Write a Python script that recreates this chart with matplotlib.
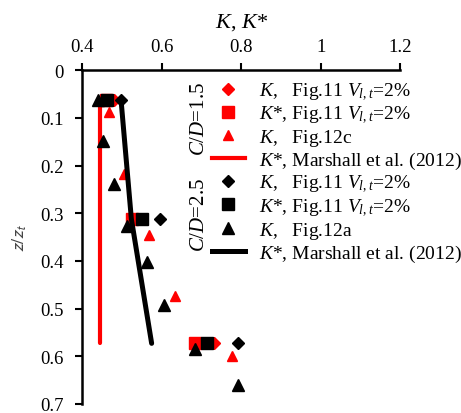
import matplotlib
matplotlib.use("Agg")
import matplotlib.pyplot as plt
from matplotlib.lines import Line2D

plt.rcParams['font.family'] = ['Liberation Serif', 'DejaVu Serif']
plt.rcParams['mathtext.fontset'] = 'custom'
plt.rcParams['mathtext.rm'] = 'Liberation Serif'
plt.rcParams['mathtext.it'] = 'Liberation Serif:italic'

# C/D = 1.5 (red)
z_fig11_15 = [0.062, 0.312, 0.573]
k_fig11_15 = [0.480, 0.540, 0.732]
kstar_fig11_15 = [0.460, 0.526, 0.684]
z_fig12c = [0.087, 0.218, 0.346, 0.474, 0.600]
k_fig12c = [0.468, 0.506, 0.569, 0.634, 0.778]
z_marsh_15 = [0.062, 0.573]
k_marsh_15 = [0.445, 0.445]

# C/D = 2.5 (black)
z_fig11_25 = [0.062, 0.312, 0.573]
k_fig11_25 = [0.498, 0.596, 0.793]
kstar_fig11_25 = [0.462, 0.551, 0.714]
z_fig12a = [0.062, 0.148, 0.239, 0.326, 0.403, 0.493, 0.585, 0.660]
k_fig12a = [0.440, 0.452, 0.480, 0.512, 0.564, 0.605, 0.684, 0.791]
z_marsh_25 = [0.062, 0.312, 0.573]
k_marsh_25 = [0.498, 0.524, 0.575]

fig = plt.figure(figsize=(4.61, 4.14), dpi=100)
ax = fig.add_axes([0.178, 0.022, 0.69, 0.806])

red = '#ff0000'
blk = '#000000'

ax.plot(k_marsh_15, z_marsh_15, color=red, lw=3, solid_capstyle='round', zorder=2)
ax.plot(k_fig11_15, z_fig11_15, 'D', color=red, ms=6.5, ls='none', zorder=3)
ax.plot(kstar_fig11_15, z_fig11_15, 's', color=red, ms=8.5, ls='none', zorder=3)
ax.plot(k_fig12c, z_fig12c, '^', color=red, ms=7.5, ls='none', zorder=3)

ax.plot(k_marsh_25, z_marsh_25, color=blk, lw=3.6, solid_capstyle='round', zorder=4)
ax.plot(k_fig11_25, z_fig11_25, 'D', color=blk, ms=6.5, ls='none', zorder=5)
ax.plot(kstar_fig11_25, z_fig11_25, 's', color=blk, ms=8.5, ls='none', zorder=5)
ax.plot(k_fig12a, z_fig12a, '^', color=blk, ms=8.5, ls='none', zorder=5)

ax.set_xlim(0.4, 1.2)
ax.set_ylim(0.7, 0)
ax.set_xticks([0.4, 0.6, 0.8, 1.0, 1.2])
ax.set_xticklabels(['0.4', '0.6', '0.8', '1', '1.2'])
ax.set_yticks([0, 0.1, 0.2, 0.3, 0.4, 0.5, 0.6, 0.7])
ax.set_yticklabels(['0', '0.1', '0.2', '0.3', '0.4', '0.5', '0.6', '0.7'])
ax.xaxis.tick_top()
ax.xaxis.set_label_position('top')
ax.tick_params(axis='both', direction='out', length=5, width=1.5, labelsize=13.5)
ax.tick_params(axis='x', pad=6)
ax.tick_params(axis='y', pad=8)
for s in ['right', 'bottom']:
    ax.spines[s].set_visible(False)
for s in ['left', 'top']:
    ax.spines[s].set_linewidth(1.8)

ax.set_xlabel('$K$, $K$*', fontsize=16, labelpad=8)
ax.set_ylabel('$z/z_t$', fontsize=13, color='#444444', labelpad=8,
              math_fontfamily='stixsans')

vlab = '$V_{l,t}$=2%'
handles = [
    Line2D([], [], marker='D', color=red, ms=6.5, ls='none'),
    Line2D([], [], marker='s', color=red, ms=8.5, ls='none'),
    Line2D([], [], marker='^', color=red, ms=7.5, ls='none'),
    Line2D([], [], color=red, lw=3),
    Line2D([], [], marker='D', color=blk, ms=6.5, ls='none'),
    Line2D([], [], marker='s', color=blk, ms=8.5, ls='none'),
    Line2D([], [], marker='^', color=blk, ms=8.5, ls='none'),
    Line2D([], [], color=blk, lw=3.6),
]
labels = [
    '$K$,   Fig.11 ' + vlab,
    '$K$*, Fig.11 ' + vlab,
    '$K$,   Fig.12c',
    '$K$*, Marshall et al. (2012)',
    '$K$,   Fig.11 ' + vlab,
    '$K$*, Fig.11 ' + vlab,
    '$K$,   Fig.12a',
    '$K$*, Marshall et al. (2012)',
]
leg = ax.legend(handles, labels, loc='upper left', bbox_to_anchor=(0.408, 0.968),
                frameon=False, fontsize=14, handlelength=1.71, handletextpad=0.74,
                labelspacing=0.1, borderpad=0, borderaxespad=0)

ax.text(0.368, 0.857, '$C/D$=1.5', rotation=90, transform=ax.transAxes,
        ha='center', va='center', fontsize=15)
ax.text(0.368, 0.57, '$C/D$=2.5', rotation=90, transform=ax.transAxes,
        ha='center', va='center', fontsize=15)

fig.savefig('out.png', dpi=100)
